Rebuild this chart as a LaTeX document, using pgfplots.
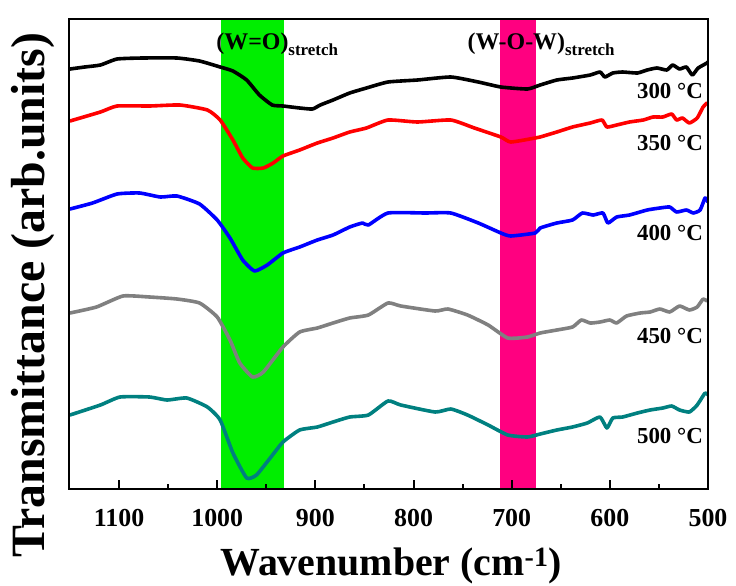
\documentclass[border=0pt]{standalone}
\usepackage{pgfplots}
\pgfplotsset{compat=1.18}
\usepackage{fontspec}
\setmainfont{Liberation Serif}
\definecolor{bandgreen}{RGB}{0,238,0}
\definecolor{bandpink}{RGB}{255,0,128}
\definecolor{cgray}{RGB}{128,128,128}
\definecolor{cteal}{RGB}{0,128,128}
\begin{document}
\begin{tikzpicture}
\path[use as bounding box] (0,0) rectangle (736bp,586bp);
\begin{axis}[
  at={(69bp,97bp)}, anchor=south west,
  scale only axis, width=639bp, height=470bp,
  x dir=reverse, xmin=500, xmax=1151,
  y dir=reverse, ymin=19, ymax=489,
  axis on top,
  xtick={500,600,...,1100},
  minor xtick={550,650,...,1050},
  ytick=\empty,
  xtick pos=bottom,
  tick align=inside,
  major tick length=9bp, minor tick length=5bp,
  axis line style={line width=2bp},
  every tick/.style={black, line width=2bp},
  /pgf/number format/assume math mode=true,
  /pgf/number format/1000 sep={},
  xticklabel style={font=\fontsize{26}{26}\selectfont\bfseries, yshift=-17bp},
  xlabel={Wavenumber (cm\textsuperscript{-1})},
  xlabel style={at={(axis description cs:0.504,-0.1830)}, anchor=base, font=\fontsize{40}{40}\selectfont\bfseries},
  ylabel={Transmittance (arb.units)},
  ylabel style={at={(axis description cs:-0.0376,0.412)}, anchor=base, font=\fontsize{48}{48}\selectfont\bfseries},
  every axis plot/.append style={line width=3.6bp, line join=round, line cap=round},
]
\addplot[draw=none, fill=bandgreen] coordinates {(996,19) (932,19) (932,489) (996,489)} -- cycle;
\addplot[draw=none, fill=bandpink] coordinates {(712,19) (675,19) (675,489) (712,489)} -- cycle;

% 300 C
\addplot[black, smooth, tension=0.3] coordinates {
(1150,69) (1135,67) (1119,65) (1102,59) (1076,58) (1041,58) (1018,61) (997,67) (984,71) (970,80) (957,95) (944,105) (933,106) (916,108) (903,109) (895,105) (882,100) (865,93) (848,88) (826,82) (796,80) (762,77) (734,82) (711,87) (684,89) (671,85) (654,80) (638,78) (620,75) (610,72) (605,77) (597,73) (587,72) (572,73) (562,70) (552,68) (542,70) (536,65) (529,69) (522,67) (516,75) (510,68) (501,63) (500,62)};
% 350 C
\addplot[red, smooth, tension=0.3] coordinates {
(1150,121) (1119,112) (1102,106) (1069,106) (1038,105) (1010,110) (997,120) (984,140) (974,158) (964,168) (953,168) (943,163) (933,156) (916,150) (898,143) (882,138) (865,132) (848,128) (826,120) (796,122) (762,120) (738,128) (711,137) (701,142) (676,138) (671,137) (654,132) (638,127) (620,123) (608,120) (603,127) (593,125) (580,122) (566,120) (556,117) (546,117) (537,114) (532,120) (526,118) (519,123) (511,118) (505,107) (501,103)};
% 400 C
\addplot[blue, smooth, tension=0.3] coordinates {
(1150,209) (1127,203) (1102,194) (1079,193) (1058,197) (1041,196) (1018,204) (1000,220) (987,238) (974,260) (962,271) (949,265) (933,253) (916,247) (898,240) (882,235) (865,227) (852,223) (846,225) (826,213) (788,213) (762,213) (734,223) (711,233) (701,236) (676,233) (671,228) (654,223) (638,220) (628,213) (617,215) (607,213) (602,223) (593,217) (580,215) (562,210) (549,208) (539,207) (532,212) (522,210) (515,213) (508,210) (503,198) (500,202)};
% 450 C
\addplot[cgray, smooth, tension=0.3] coordinates {
(1150,313) (1123,307) (1096,296) (1069,297) (1041,299) (1018,303) (1000,317) (987,340) (977,363) (964,377) (953,372) (933,347) (916,332) (898,328) (882,323) (865,318) (846,315) (826,303) (813,306) (778,311) (765,309) (745,315) (724,325) (704,338) (684,337) (671,333) (654,330) (638,327) (629,320) (620,323) (610,322) (600,320) (593,323) (583,316) (569,313) (559,312) (549,309) (539,312) (529,306) (519,310) (511,307) (505,299) (501,301)};
% 500 C
\addplot[cteal, smooth, tension=0.3] coordinates {
(1150,415) (1119,405) (1099,397) (1069,397) (1051,400) (1031,398) (1010,407) (997,420) (984,453) (970,478) (960,475) (946,458) (933,442) (916,430) (898,427) (882,422) (865,417) (846,415) (826,401) (813,405) (778,412) (762,409) (745,415) (724,425) (704,435) (684,437) (671,434) (654,430) (638,427) (623,423) (610,417) (603,428) (597,418) (587,417) (572,413) (559,410) (546,408) (537,406) (529,410) (519,412) (511,405) (503,393) (500,395)};

\node[anchor=base west, font=\fontsize{24}{24}\selectfont\bfseries, inner sep=0pt] at (axis cs:1001,49) {(W=O)\raisebox{-6bp}{\fontsize{17}{17}\selectfont stretch}};
\node[anchor=base west, font=\fontsize{24}{24}\selectfont\bfseries, inner sep=0pt] at (axis cs:745,49) {(W-O-W)\raisebox{-6bp}{\fontsize{17}{17}\selectfont stretch}};
\node[anchor=base east, font=\fontsize{23}{23}\selectfont\bfseries, inner sep=0pt] at (axis cs:505,98) {300 °C};
\node[anchor=base east, font=\fontsize{23}{23}\selectfont\bfseries, inner sep=0pt] at (axis cs:505,150) {350 °C};
\node[anchor=base east, font=\fontsize{23}{23}\selectfont\bfseries, inner sep=0pt] at (axis cs:505,240) {400 °C};
\node[anchor=base east, font=\fontsize{23}{23}\selectfont\bfseries, inner sep=0pt] at (axis cs:505,343) {450 °C};
\node[anchor=base east, font=\fontsize{23}{23}\selectfont\bfseries, inner sep=0pt] at (axis cs:505,443) {500 °C};
\end{axis}
\end{tikzpicture}
\end{document}
